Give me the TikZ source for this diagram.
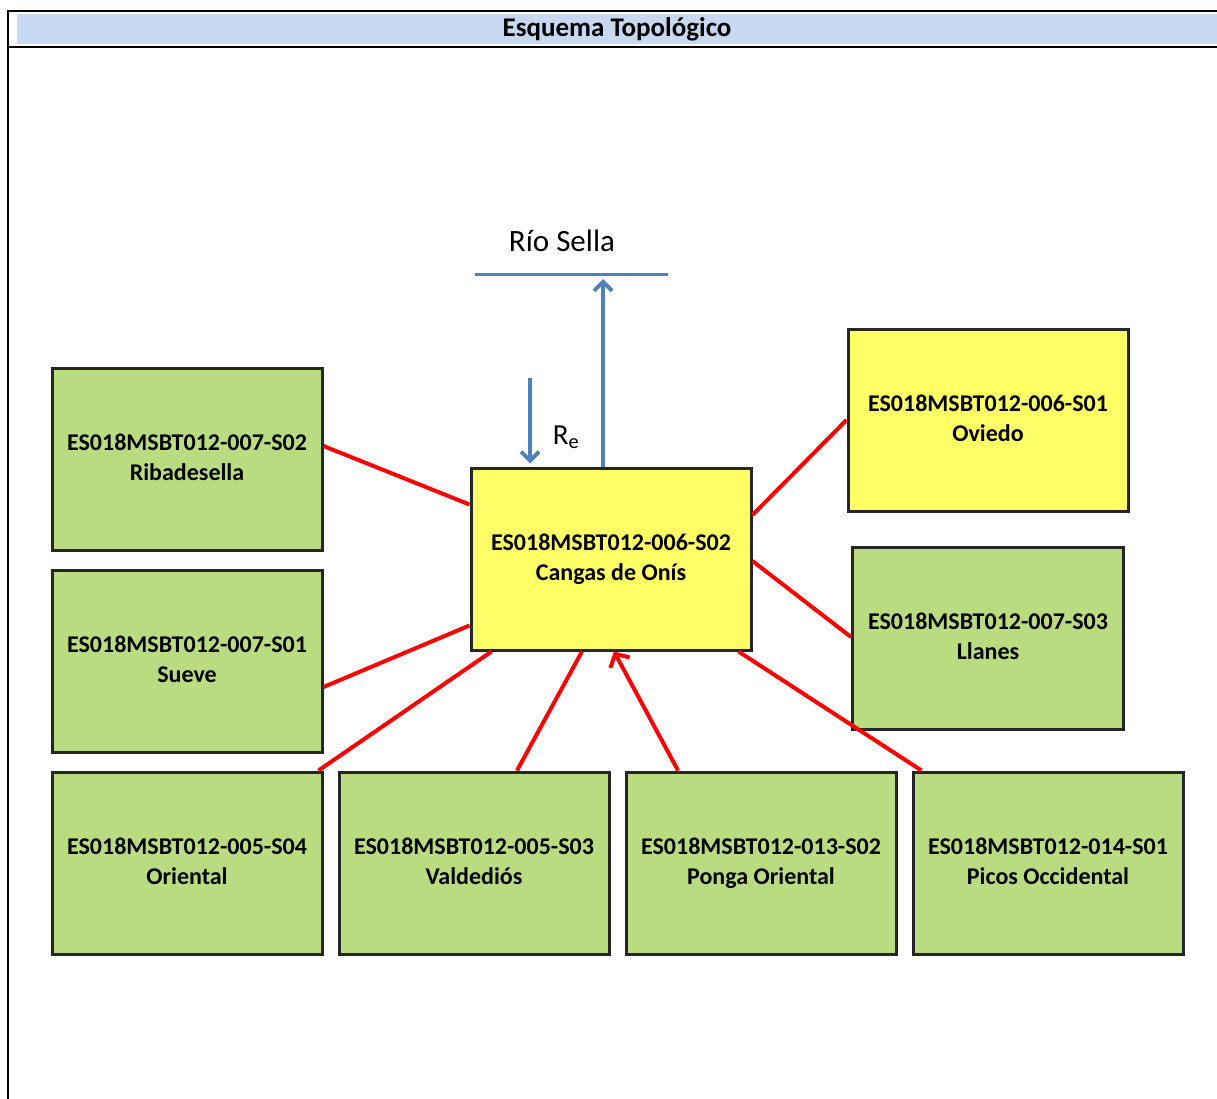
\documentclass[tikz,border=0pt]{standalone}
\usepackage{fontspec}
\setmainfont{Carlito}
\usetikzlibrary{arrows.meta,positioning}
\definecolor{masagreen}{RGB}{186,220,128}
\definecolor{masayellow}{RGB}{255,255,102}
\definecolor{headblue}{RGB}{198,217,241}
\definecolor{riverblue}{RGB}{79,129,189}

\begin{document}
\begin{tikzpicture}[
    x=1pt, y=-1pt,
    node distance=14pt,
    masa/.style={draw=black!85, line width=3pt, fill=masagreen, minimum width=270pt, minimum height=182pt,
      align=center, font=\fontsize{24}{30}\selectfont\bfseries, inner sep=0pt,
      execute at end node={\vphantom{g}}},
    central/.style={masa, fill=masayellow, minimum width=280pt},
    link/.style={red, line width=4pt},
    flow/.style={riverblue, line width=4pt, -{Straight Barb[length=9pt, width=18pt, line width=4pt]}},
  ]
    \useasboundingbox (0,0) rectangle (1217,1099);
    % frame and header
    \fill[headblue] (17,14) rectangle (1217,44);
    \draw[line width=2.5pt] (8,1099) -- (8,11) -- (1217,11);
    \draw[line width=2.5pt] (8,47) -- (1217,47);
    \node[font=\fontsize{27}{30}\selectfont\bfseries] (titulo) at (617,29) {Esquema Topológico};

    % water bodies
    \node[central] (cangas) at (611,559) {ES018MSBT012-006-S02\\Cangas de Onís};
    \node[central] (oviedo) at (988,420) {ES018MSBT012-006-S01\\Oviedo};
    \node[masa, minimum width=271pt] (llanes) at (988,638) {ES018MSBT012-007-S03\\Llanes};
    \node[masa] (ribadesella) at (187,459) {ES018MSBT012-007-S02\\Ribadesella};
    \node[masa, below=17pt of ribadesella] (sueve) {ES018MSBT012-007-S01\\Sueve};
    \node[masa, below=17pt of sueve] (oriental) {ES018MSBT012-005-S04\\Oriental};
    \node[masa, right=of oriental] (valdedios) {ES018MSBT012-005-S03\\Valdediós};
    \node[masa, right=of valdedios] (ponga) {ES018MSBT012-013-S02\\Ponga Oriental};
    \node[masa, right=of ponga] (picos) {ES018MSBT012-014-S01\\Picos Occidental};

    % river and recharge
    \coordinate (rioW) at (475,274);
    \coordinate (rioE) at (668,274);
    \coordinate (salida) at (603,279);
    \coordinate (recarga) at (530,378);
    \draw[riverblue, line width=3pt] (rioW) -- (rioE);
    \node[font=\fontsize{31}{34}\selectfont] (rio) at (562,241) {Río Sella};
    \draw[flow] ([xshift=-8pt]cangas.north) -- (salida);
    \draw[flow] (recarga) -- ([xshift=-81pt, yshift=3pt]cangas.north);
    \node[font=\fontsize{29}{30}\selectfont] (re) at (566,437) {R\textsubscript{e}};

    % lateral connections
    \draw[link] ([yshift=13pt]ribadesella.east) -- ([yshift=-38pt]cangas.north west);
    \draw[link] ([yshift=-26pt]sueve.east) -- ([yshift=26pt]cangas.south west);
    \draw[link] ([xshift=-5pt]oriental.north east) -- ([xshift=22pt]cangas.south west);
    \draw[link] ([xshift=43pt]valdedios.north) -- ([xshift=-29pt]cangas.south);
    \draw[link, -{Straight Barb[length=10pt, width=22pt, line width=4pt]}] ([xshift=-83pt]ponga.north) -- ([xshift=3pt]cangas.south);
    \draw[link] ([xshift=10pt]picos.north west) -- ([xshift=-14pt]cangas.south east);
    \draw[link] ([yshift=1pt]llanes.west) -- ([yshift=-2pt]cangas.east);
    \draw[link] (oviedo.west) -- ([yshift=44pt]cangas.east);
  \end{tikzpicture}
\end{document}
